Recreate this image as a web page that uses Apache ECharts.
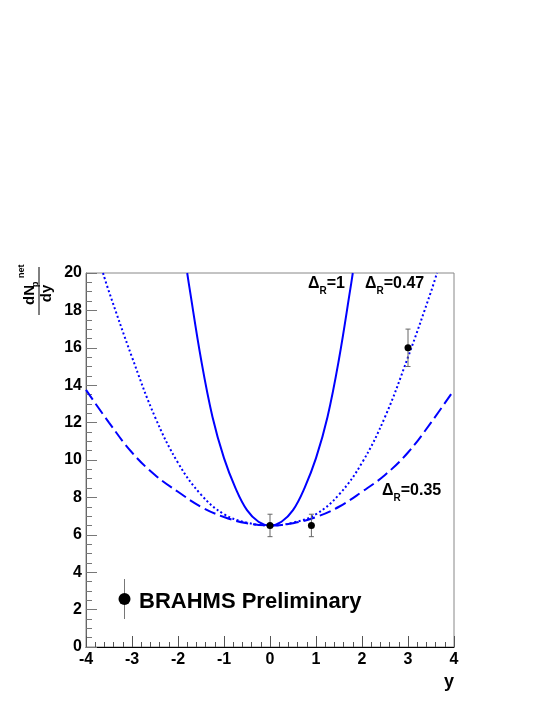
<!DOCTYPE html>
<html>
<head>
<meta charset="utf-8">
<script src="https://cdn.jsdelivr.net/npm/echarts@6/dist/echarts.min.js"></script>
<style>
html, body { margin: 0; padding: 0; background: #fff; }
#chart { width: 545px; height: 705px; }
</style>
</head>
<body>
<div id="chart"></div>
<script>
// model curves (rapidity y -> dN/dy)
var yR035 = [-4, -3.5, -3, -2.5, -2, -1.5, -1, -0.5, 0, 0.5, 1, 1.5, 2, 2.5, 3, 3.5, 4];
var nR035 = [13.75, 12.0, 10.4, 9.2, 8.3, 7.5, 6.95, 6.62, 6.5, 6.62, 6.95, 7.5, 8.3, 9.2, 10.4, 12.0, 13.75];

var yR047 = [-3.63, -3.5, -3, -2.5, -2, -1.5, -1, -0.5, 0, 0.5, 1, 1.5, 2, 2.5, 3, 3.5, 3.63];
var nR047 = [20, 19.0, 15.5, 12.3, 9.85, 8.15, 7.1, 6.65, 6.5, 6.65, 7.1, 8.15, 9.85, 12.3, 15.5, 19.0, 20];

var yR1 = [-1.8, -1.75, -1.5, -1.25, -1, -0.75, -0.5, -0.25, 0, 0.25, 0.5, 0.75, 1, 1.25, 1.5, 1.75, 1.8];
var nR1 = [20, 19.2, 15.4, 12.3, 10.1, 8.5, 7.32, 6.7, 6.5, 6.7, 7.32, 8.5, 10.1, 12.3, 15.4, 19.2, 20];

// BRAHMS preliminary points
var dataY = [0, 0.9, 3];
var dataN = [6.5, 6.5, 16];
var dataErr = [0.6, 0.6, 1.0];

var xTicks = { min: -4, max: 4, step: 1 };
var yTicks = { min: 0, max: 20, step: 2 };

var FONT = '"Liberation Sans", Arial, Helvetica, sans-serif';
var BLUE = '#0000ff';

function pairs(xs, ys) {
  return xs.map(function (x, i) { return [x, ys[i]]; });
}

var chart = echarts.init(document.getElementById('chart'), null, { renderer: 'canvas' });

function curve(name, xs, ys, type) {
  return {
    name: name,
    type: 'line',
    data: pairs(xs, ys),
    smooth: 0.4,
    showSymbol: false,
    silent: true,
    lineStyle: { color: BLUE, width: 2, type: type },
    z: 2
  };
}

function deltaLabel(x, y, val) {
  return {
    type: 'text',
    left: x,
    top: y - 12,
    style: {
      text: '{a|Δ}{s|R}{a|=' + val + '}',
      rich: {
        a: { fontFamily: FONT, fontWeight: 'bold', fontSize: 16, lineHeight: 24, fill: '#000', verticalAlign: 'middle' },
        s: { fontFamily: FONT, fontWeight: 'bold', fontSize: 10, lineHeight: 10, fill: '#000', verticalAlign: 'bottom' }
      }
    }
  };
}

var option = {
  backgroundColor: '#fff',
  animation: false,
  grid: {
    left: 86, right: 91, top: 273, bottom: 58,
    show: true, borderColor: '#888', borderWidth: 1,
    outerBoundsMode: 'none'
  },
  xAxis: {
    type: 'value',
    min: xTicks.min, max: xTicks.max, interval: xTicks.step,
    splitLine: { show: false },
    axisLine: { show: true, onZero: false, lineStyle: { color: '#000', width: 1 } },
    axisTick: { show: true, inside: true, length: 11, lineStyle: { color: '#555' } },
    minorTick: { show: true, splitNumber: 5, length: 5, lineStyle: { color: '#555' } },
    axisLabel: { fontFamily: FONT, fontWeight: 'bold', fontSize: 16, color: '#000', margin: 5 }
  },
  yAxis: {
    type: 'value',
    min: yTicks.min, max: yTicks.max, interval: yTicks.step,
    splitLine: { show: false },
    axisLine: { show: true, onZero: false, lineStyle: { color: '#666', width: 1 } },
    axisTick: { show: true, inside: true, length: 11, lineStyle: { color: '#777' } },
    minorTick: { show: true, splitNumber: 4, length: 6, lineStyle: { color: '#777' } },
    axisLabel: { fontFamily: FONT, fontWeight: 'bold', fontSize: 16, color: '#000', margin: 4 }
  },
  series: [
    curve('ΔR=0.35', yR035, nR035, [12, 5]),
    curve('ΔR=0.47', yR047, nR047, [2, 2.5]),
    curve('ΔR=1', yR1, nR1, 'solid'),
    {
      name: 'errors',
      type: 'custom',
      silent: true,
      z: 3,
      data: dataY.map(function (y, i) { return [y, dataN[i] - dataErr[i], dataN[i] + dataErr[i]]; }),
      renderItem: function (params, api) {
        var lo = api.coord([api.value(0), api.value(1)]);
        var hi = api.coord([api.value(0), api.value(2)]);
        var w = 2.5;
        var st = { stroke: '#666', lineWidth: 1 };
        return {
          type: 'group',
          children: [
            { type: 'line', shape: { x1: lo[0], y1: lo[1], x2: hi[0], y2: hi[1] }, style: st },
            { type: 'line', shape: { x1: lo[0] - w, y1: lo[1], x2: lo[0] + w, y2: lo[1] }, style: st },
            { type: 'line', shape: { x1: hi[0] - w, y1: hi[1], x2: hi[0] + w, y2: hi[1] }, style: st }
          ]
        };
      }
    },
    {
      name: 'BRAHMS',
      type: 'scatter',
      data: pairs(dataY, dataN),
      symbol: 'circle',
      symbolSize: 7,
      itemStyle: { color: '#000', opacity: 1 },
      silent: true,
      z: 4
    }
  ],
  graphic: [
    // y-axis title: dN_p^net / dy, rotated
    {
      type: 'group',
      x: 39, y: 291,
      rotation: Math.PI / 2,
      children: [
        { type: 'line', shape: { x1: -24, y1: 0, x2: 24, y2: 0 }, style: { stroke: '#000', lineWidth: 1 } },
        { type: 'text', x: -14, y: -9, style: { text: 'dN', fill: '#000', font: 'bold 15px ' + FONT, textAlign: 'left', textVerticalAlign: 'middle' } },
        { type: 'text', x: 4, y: -3, style: { text: 'p', fill: '#000', font: 'bold 9px ' + FONT, textAlign: 'left', textVerticalAlign: 'middle' } },
        { type: 'text', x: 13, y: -17, style: { text: 'net', fill: '#000', font: 'bold 9px ' + FONT, textAlign: 'left', textVerticalAlign: 'middle' } },
        { type: 'text', x: -2.5, y: 8, style: { text: 'dy', fill: '#000', font: 'bold 15px ' + FONT, textAlign: 'center', textVerticalAlign: 'middle' } }
      ]
    },
    // x-axis title
    {
      type: 'text', x: 454, y: 682,
      style: { text: 'y', fill: '#000', font: 'bold 18px ' + FONT, textAlign: 'right', textVerticalAlign: 'middle' }
    },
    deltaLabel(308, 288, '1'),
    deltaLabel(365, 288, '0.47'),
    deltaLabel(382, 495, '0.35'),
    // legend marker
    { type: 'line', shape: { x1: 124.5, y1: 579, x2: 124.5, y2: 619 }, style: { stroke: '#777', lineWidth: 1 } },
    { type: 'circle', shape: { cx: 124.5, cy: 599, r: 6 }, style: { fill: '#000' } },
    {
      type: 'text', x: 139, y: 602,
      style: { text: 'BRAHMS Preliminary', fill: '#000', font: 'bold 22px ' + FONT, textAlign: 'left', textVerticalAlign: 'middle' }
    }
  ]
};

chart.setOption(option);
</script>
</body>
</html>
